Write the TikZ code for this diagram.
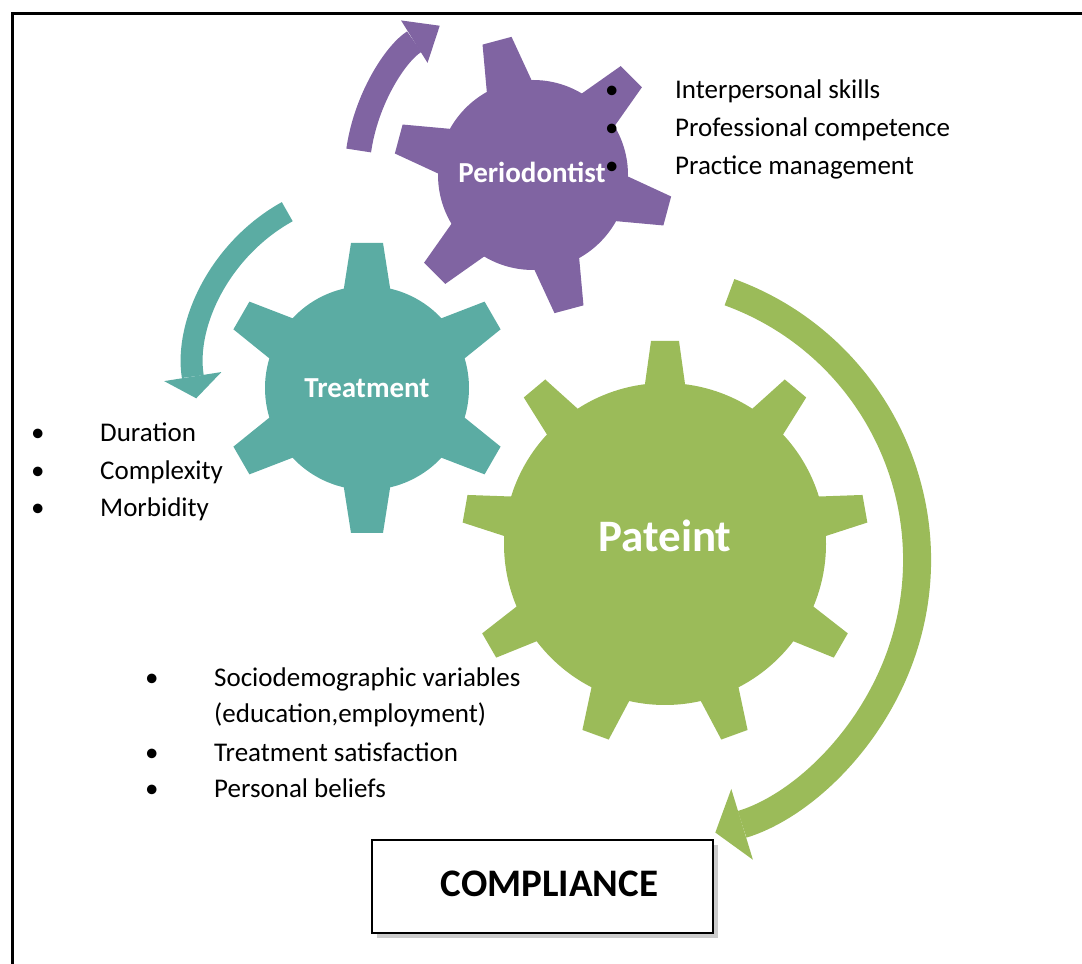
\documentclass[tikz,border=0pt]{standalone}
\usepackage{fontspec}
\setmainfont{Carlito}
\usetikzlibrary{arrows.meta,shadows}

\definecolor{perio}{HTML}{8064A2}
\definecolor{treat}{HTML}{5BACA3}
\definecolor{patient}{HTML}{9BBB59}

\begin{document}
\begin{tikzpicture}[
        x=1pt, y=1pt,
        cogtext/.style={text=white, font=\bfseries\fontsize{29}{34}\selectfont, inner sep=0pt, anchor=base},
        item/.style={anchor=base west, inner sep=0pt, font=\fontsize{27}{38}\selectfont},
        perioturn/.style={draw=perio, line width=25pt, -{Triangle[length=30pt,width=50pt,line width=0pt]}},
        treatturn/.style={draw=treat, line width=22pt, -{Triangle[length=22pt,width=58pt,line width=0pt]}},
        patturn/.style={draw=patient, line width=28pt, -{Triangle[length=28pt,width=74pt,line width=0pt]}}
    ]
    \useasboundingbox (0,0) rectangle (1082,964);
    \draw[line width=3pt] (12,0) -- (12,950) -- (1082,950);

    % the three cogs
    \fill[perio] (533,789) circle[radius=95];
    \foreach \a in {105,165,...,405}
        \fill[perio, shift={(533,789)}, rotate=\a] (87,-24) -- (139,-15) -- (139,15) -- (87,24) -- cycle;

    \fill[treat] (367,576) circle[radius=102];
    \foreach \a in {90,150,...,390}
        \fill[treat, shift={(367,576)}, rotate=\a] (94,-24) -- (145,-16) -- (145,16) -- (94,24) -- cycle;

    \fill[patient] (665,420) circle[radius=161];
    \foreach \a in {90,130,...,410}
        \fill[patient, shift={(665,420)}, rotate=\a] (153,-21) -- (203,-14) -- (203,14) -- (153,21) -- cycle;

    \node[cogtext] (perio) at (532,781) {Periodontist};
    \node[cogtext] (treat) at (367,566) {Treatment};
    \node[cogtext, font=\bfseries\fontsize{45}{50}\selectfont] (pat) at (665,412) {Pateint};

    % turning arrows round the cogs
    \draw[perioturn] (533,789) ++(172:176) arc[start angle=172, end angle=122, radius=176];
    \draw[treatturn] (375,594) ++(119:181) arc[start angle=119, end angle=189, radius=181];
    \draw[patturn] (632,404) ++(70:285) arc[start angle=70, end angle=-73, radius=285];

    % factor lists
    \node[item] (skills) at (605,865) {\makebox[70pt][l]{\textbullet}Interpersonal skills};
    \node[item] (compet) at (605,827) {\makebox[70pt][l]{\textbullet}Professional competence};
    \node[item] (manage) at (605,789) {\makebox[70pt][l]{\textbullet}Practice management};

    \node[item] (dur)  at (31,522) {\makebox[69pt][l]{\textbullet}Duration};
    \node[item] (cplx) at (31,484) {\makebox[69pt][l]{\textbullet}Complexity};
    \node[item] (morb) at (31,447) {\makebox[69pt][l]{\textbullet}Morbidity};

    \node[item] (socio)  at (145,277) {\makebox[69pt][l]{\textbullet}Sociodemographic variables};
    \node[item] (socio2) at (214,241) {(education,employment)};
    \node[item] (satis)  at (145,202) {\makebox[69pt][l]{\textbullet}Treatment satisfaction};
    \node[item] (belief) at (145,166) {\makebox[69pt][l]{\textbullet}Personal beliefs};

    \node[draw, line width=2.5pt, fill=white, minimum width=341pt, minimum height=93pt,
          drop shadow={shadow xshift=5pt, shadow yshift=-5pt, fill=black!40},
          font=\bfseries\fontsize{39}{44}\selectfont] (compliance) at (542.5,77.5)
          {\hspace*{14pt}\raisebox{5pt}{COMPLIANCE}};
\end{tikzpicture}
\end{document}
